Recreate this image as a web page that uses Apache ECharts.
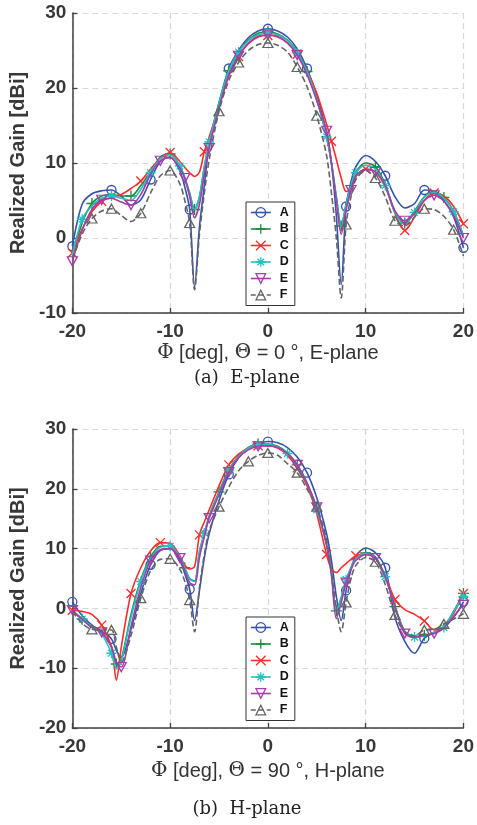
<!DOCTYPE html>
<html><head><meta charset="utf-8">
<script src="https://cdn.jsdelivr.net/npm/echarts@6/dist/echarts.min.js"></script>
<style>html,body{margin:0;padding:0;background:#fff}#c{width:477px;height:825px}</style>
</head><body><div id="c"></div>
<script>
// ---------- E-plane (top) ----------
const TX = [-20,-19,-18,-17,-16,-15,-14,-13,-12,-11,-10,-9,-8.5,-8,-7.5,-7,-6.5,-6,-5,-4,-3,-2,-1,0,1,2,3,4,5,6,6.5,7,7.5,8,8.5,9,10,11,12,13,14,15,16,17,18,19,20];
const eA = [-1.1,4.5,5.9,6.3,6.4,5.6,4.4,5.1,7.8,10.2,10.8,8.9,6.8,3.8,-6.6,1.5,7.0,12.5,18.0,22.6,25.0,26.7,27.6,27.9,27.6,26.8,25.2,22.6,19.0,14.0,10.0,3.0,-6.2,4.2,7.5,9.5,11.0,10.2,8.3,5.5,4.0,4.6,6.4,6.2,5.0,2.8,-1.3];
const eB = [-2.5,2.0,4.6,5.6,5.8,5.6,5.6,7.0,8.8,10.8,11.2,9.6,8.0,6.0,3.8,5.5,9.5,12.8,18.0,22.3,24.8,26.4,27.3,27.5,27.2,26.4,24.8,22.2,18.5,13.5,10.0,5.5,1.6,4.5,7.0,8.8,10.0,9.5,7.2,3.5,2.0,3.6,5.5,6.2,5.4,3.6,0.3];
const eC = [-2.0,1.2,3.5,4.9,5.4,5.8,6.6,7.6,9.2,10.6,11.4,10.2,9.4,8.7,8.2,8.8,11.5,13.5,17.5,21.6,24.2,25.9,26.8,27.0,26.8,26.0,24.5,22.3,19.3,15.2,12.9,10.5,8.0,6.2,6.5,8.2,9.2,8.8,6.8,3.3,1.0,2.8,5.0,6.0,5.6,4.2,1.9];
const eD = [-2.3,2.5,4.3,5.3,5.6,5.3,5.0,6.5,8.7,10.6,11.1,9.6,7.8,5.8,3.8,5.5,9.5,12.8,18.0,22.3,24.8,26.3,27.1,27.3,27.1,26.3,24.7,22.2,18.5,13.5,10.0,5.5,1.5,4.5,7.0,8.7,9.7,9.2,7.0,3.4,1.8,3.4,5.4,6.1,5.3,3.5,0.3];
const eE = [-3.1,1.0,3.8,5.1,5.3,4.8,4.4,5.8,8.5,10.3,10.7,9.3,8.0,5.5,2.7,4.5,8.5,12.0,17.3,21.7,24.3,26.0,26.9,27.1,26.9,26.0,24.4,21.8,18.3,14.3,10.0,5.0,0.5,3.8,6.4,8.3,9.1,8.8,7.0,3.6,2.3,3.3,5.0,5.7,4.9,3.0,0.0];
const eF = [-2.8,0.5,2.6,3.6,3.9,3.0,2.2,3.3,6.0,8.3,9.0,7.2,5.0,2.0,-6.9,0.5,6.0,10.5,16.9,21.0,23.4,25.0,25.8,26.0,25.7,24.8,22.8,20.2,16.3,11.0,6.0,0.0,-8.0,1.8,5.5,7.8,9.0,8.0,5.5,2.3,1.6,2.8,3.9,3.8,2.9,1.1,-2.4];
const eMarkA = [-20,-16,-12,-8,-4,0,4,8,12,16,20];
const eMarkB = [-18,-14,-10,-7.5,-4,0,4,7.5,11,14,18];
const eMarkC = [-20,-17,-13,-10,-6.5,-3,0,3,6.5,10,14,17,20];
const eMarkD = [-19,-16,-12,-9,-6,-3,0,3,6,9,12,15,19];
const eMarkE = [-20,-17,-14,-11,-8.5,-6,-3,0,3,6,8.5,11,14,17,20];
const eMarkF = [-18,-16,-13,-10,-8,-5,-3,0,3,5,8,11,13,16,19];

// ---------- H-plane (bottom) ----------
const BX = [-20,-19,-18,-17,-16,-15.5,-15,-14,-13,-12,-11,-10,-9,-8.5,-8,-7.5,-7,-6.5,-6,-5,-4,-3,-2,-1,0,1,2,3,4,5,6,6.5,7,7.5,8,8.5,9,10,11,12,13,14,15,16,17,18,19,20];
const hA = [1.1,-1.2,-2.8,-3.8,-5.1,-7.0,-8.2,-3.5,2.5,7.3,9.7,10.0,8.0,5.8,3.2,-2.0,3.0,8.5,12.5,18.0,22.4,25.2,26.8,27.6,27.9,27.7,26.9,25.3,22.7,18.5,12.5,8.0,2.0,-2.0,3.0,6.5,8.8,10.1,9.3,6.8,-1.5,-5.5,-7.5,-5.0,-4.0,-3.2,-1.5,1.1];
const hB = [-0.5,-1.8,-3.0,-4.0,-6.3,-9.3,-8.5,-1.0,4.8,8.6,10.4,10.4,8.6,6.8,5.0,4.6,9.5,12.5,15.5,19.5,23.2,25.5,26.9,27.5,27.5,27.1,26.0,24.0,21.0,16.5,10.8,6.0,-0.4,1.8,4.8,6.8,8.3,9.3,8.6,5.3,0.3,-3.8,-4.7,-4.5,-4.2,-3.0,-0.5,2.5];
const hC = [-0.3,-0.5,-1.0,-2.8,-6.5,-12.0,-6.5,2.5,6.8,9.6,11.0,10.9,8.8,7.2,6.6,7.0,12.3,14.5,16.5,20.5,24.0,25.8,26.8,27.2,27.2,26.8,25.6,23.5,20.5,15.8,9.0,6.6,6.0,6.8,7.5,8.2,8.8,9.1,8.4,5.5,1.5,-0.2,-1.0,-2.1,-3.6,-3.0,-0.8,2.5];
const hD = [-0.5,-1.8,-3.0,-4.3,-7.5,-10.0,-8.8,-1.5,4.5,8.3,10.2,10.4,8.6,6.8,4.9,4.5,9.5,12.6,15.3,19.3,23.0,25.4,26.8,27.4,27.4,27.0,25.9,23.9,20.9,16.5,10.8,6.0,-0.3,1.8,4.8,6.8,8.3,9.2,8.5,5.3,0.3,-4.0,-4.8,-4.6,-4.0,-3.2,-0.5,2.0];
const hE = [-0.3,-1.8,-3.2,-4.0,-6.5,-9.0,-9.8,-3.0,3.5,8.0,9.8,10.0,8.4,6.3,4.3,3.9,8.5,12.0,15.1,19.0,22.8,25.2,26.5,27.1,27.2,26.9,25.9,24.0,20.9,16.9,10.5,5.5,-1.7,1.0,4.3,6.5,8.0,9.0,8.4,5.3,0.3,-4.2,-4.8,-4.5,-4.2,-3.3,-1.3,0.6];
const hF = [-0.5,-2.5,-3.5,-3.6,-3.6,-6.5,-9.0,-4.5,1.7,6.3,8.2,8.3,6.5,4.5,1.4,-3.9,3.5,9.0,13.0,17.0,20.3,23.0,24.6,25.6,26.0,25.6,24.2,22.7,20.0,17.0,11.5,6.0,0.0,-3.9,1.0,5.0,7.2,8.5,7.8,4.0,-1.1,-4.0,-4.6,-3.6,-3.5,-2.6,-1.8,-0.9];
const hMarkA = [-20,-16,-12,-8,-4,0,4,8,12,16,20];
const hMarkB = [-19,-15.5,-12,-8.5,-5,-1,3,7,10,13,16,20];
const hMarkC = [-20,-17,-14,-11,-7,-4,-1,3,6,9,13,16,20];
const hMarkD = [-19,-16,-13,-10,-6.5,-4,-1,2,5,8,12,15,18,20];
const hMarkE = [-20,-17,-15,-12,-9,-6,-4,-1,3,5,8,11,14,17,20];
const hMarkF = [-18,-16,-13,-10,-8,-5,-2,0,3,5,8,11,13,16,18,20];

const NAMES = ['A','B','C','D','E','F'];
const X_TICKS = [-20,-10,0,10,20];

const COLORS = ['#3452ad','#1b8a3e','#ff2b2b','#22c1c1','#a63cab','#646464'];
const SYMBOLS = ['circle',
  'path://M5 0L5 10M0 5L10 5',
  'path://M0 0L10 10M0 10L10 0',
  'path://M5 0L5 10M0 5L10 5M1.6 1.6L8.4 8.4M1.6 8.4L8.4 1.6',
  'path://M0 0L10 0L5 8.7Z',
  'path://M5 0L10 8.7L0 8.7Z'];
const SIZES = [9, 11, 9, 10, [10,9], [10,9]];

function mk(g, xs, ys, marks, i) {
  const data = xs.map((x, k) => marks.includes(x) ? [x, ys[k]] : {value: [x, ys[k]], symbol: 'none'});
  return {
    name: NAMES[i], type: 'line', xAxisIndex: g, yAxisIndex: g, data,
    smooth: 0.3, showSymbol: true, showAllSymbol: true,
    symbol: SYMBOLS[i], symbolSize: SIZES[i],
    lineStyle: {color: COLORS[i], width: 1.6, type: i === 5 ? [6, 3] : 'solid'},
    itemStyle: {color: 'rgba(0,0,0,0)', borderColor: COLORS[i], borderWidth: 1.3},
    emphasis: {disabled: true}, z: 2 + i, animation: false
  };
}

const series = [
  mk(0, TX, eA, eMarkA, 0), mk(0, TX, eB, eMarkB, 1), mk(0, TX, eC, eMarkC, 2),
  mk(0, TX, eD, eMarkD, 3), mk(0, TX, eE, eMarkE, 4), mk(0, TX, eF, eMarkF, 5),
  mk(1, BX, hA, hMarkA, 0), mk(1, BX, hB, hMarkB, 1), mk(1, BX, hC, hMarkC, 2),
  mk(1, BX, hD, hMarkD, 3), mk(1, BX, hE, hMarkE, 4), mk(1, BX, hF, hMarkF, 5)
];

const axisCol = '#404040';
const SANS = '"Liberation Sans", Arial, Helvetica, sans-serif';
function xAx(g, title, gap) {
  return {
    type: 'value', gridIndex: g, min: X_TICKS[0], max: X_TICKS[X_TICKS.length-1], interval: 10,
    axisLine: {show: true, onZero: false, lineStyle: {color: axisCol, width: 1.5}},
    axisTick: {show: true, inside: true, length: 5, lineStyle: {color: axisCol, width: 1.3}},
    axisLabel: {fontSize: 19, fontWeight: 'bold', color: '#383838', margin: 9, fontFamily: SANS, showMinLabel: true, showMaxLabel: true},
    splitLine: {show: true, lineStyle: {color: '#d8d8d8', type: [6, 4], width: 1.2}},
    name: title, nameLocation: 'middle', nameGap: gap,
    nameTextStyle: {fontSize: 20, color: '#333', fontFamily: SANS,
      rich: {s: {fontSize: 20, color: '#333', fontFamily: '"DejaVu Serif", serif'}}}
  };
}
function yAx(g, mn) {
  return {
    type: 'value', gridIndex: g, min: mn, max: 30, interval: 10,
    axisLine: {show: true, onZero: false, lineStyle: {color: axisCol, width: 1.5}},
    axisTick: {show: true, inside: true, length: 5, lineStyle: {color: axisCol, width: 1.3}},
    axisLabel: {fontSize: 19, fontWeight: 'bold', color: '#383838', margin: 6, fontFamily: SANS},
    splitLine: {show: true, lineStyle: {color: '#d8d8d8', type: [6, 4], width: 1.2}},
    name: 'Realized Gain [dBi]', nameLocation: 'middle', nameGap: 40, nameRotate: 90,
    nameTextStyle: {fontSize: 20, fontWeight: 'bold', color: '#383838', fontFamily: SANS}
  };
}

function legendData() {
  return NAMES.map((n, i) => ({
    name: n,
    itemStyle: {color: 'rgba(0,0,0,0)', borderColor: COLORS[i], borderWidth: 1.3},
    lineStyle: {color: COLORS[i], width: 1.6, type: i === 5 ? [5, 3] : 'solid'}
  }));
}
function leg(top) {
  return {
    data: legendData(), orient: 'vertical', left: 246, top: top,
    itemWidth: 20, itemHeight: 12, itemGap: 3.5, padding: [4, 6, 4, 4],
    borderColor: '#333', borderWidth: 1, backgroundColor: '#fff',
    selectedMode: false,
    textStyle: {fontSize: 12.5, fontWeight: 'bold', color: '#111', padding: [0, 0, 0, 4], fontFamily: SANS}
  };
}

const chart = echarts.init(document.getElementById('c'), null, {renderer: 'canvas'});
chart.setOption({
  animation: false,
  backgroundColor: '#fff',
  grid: [
    {left: 72, top: 13, width: 395, height: 300},
    {left: 72, top: 429, width: 395, height: 299}
  ],
  xAxis: [xAx(0, '{s|Φ} [deg], {s|Θ} = 0 °, E-plane', 30), xAx(1, '{s|Φ} [deg], {s|Θ} = 90 °, H-plane', 33)],
  yAxis: [yAx(0, -10), yAx(1, -20)],
  legend: [leg(202), leg(617)],
  series: series,
  graphic: [
    {type: 'text', x: 247, y: 378, style: {text: '(a)  E-plane', font: '18px "DejaVu Serif", serif', fill: '#222', align: 'center', verticalAlign: 'middle'}},
    {type: 'text', x: 247, y: 809, style: {text: '(b)  H-plane', font: '18px "DejaVu Serif", serif', fill: '#222', align: 'center', verticalAlign: 'middle'}}
  ]
});
</script></body></html>
